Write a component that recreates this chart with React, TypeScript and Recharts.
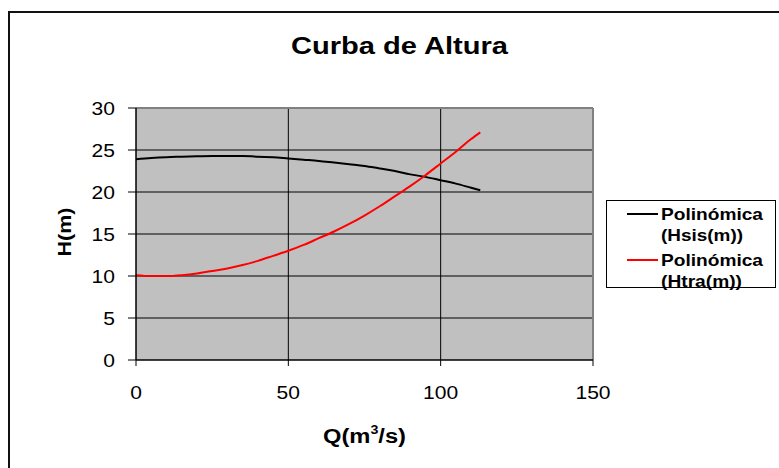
import React from "react";
import {
  LineChart,
  Line,
  XAxis,
  YAxis,
  CartesianGrid,
  ReferenceLine,
  Label,
} from "recharts";

const chartTitle = "Curba de Altura";
const xAxisTitle = "Q(m";
const xAxisTitleSup = "3";
const xAxisTitleEnd = "/s)";
const yAxisTitle = "H(m)";

const qValues = [0, 5, 10, 15, 20, 25, 30, 35, 40, 45, 50, 55, 60, 65, 70, 75, 80, 85, 90, 95, 100, 105, 110, 113];
const hsisValues = [23.9, 24.05, 24.15, 24.2, 24.25, 24.3, 24.3, 24.3, 24.2, 24.15, 24.0, 23.85, 23.7, 23.5, 23.3, 23.1, 22.8, 22.5, 22.1, 21.8, 21.4, 21.0, 20.5, 20.2];
const htraValues = [10.1, 10.0, 10.0, 10.1, 10.3, 10.6, 10.9, 11.3, 11.8, 12.4, 13.0, 13.7, 14.5, 15.3, 16.2, 17.2, 18.3, 19.5, 20.7, 22.0, 23.4, 24.8, 26.3, 27.1];

const xTicks = [0, 50, 100, 150];
const yTicks = [0, 5, 10, 15, 20, 25, 30];
const gridY = [5, 10, 15, 20, 25];
const gridX = [50, 100];

const seriesNames = [
  ["Polinómica", "(Hsis(m))"],
  ["Polinómica", "(Htra(m))"],
];
const seriesColors = ["#000000", "#FF0000"];

const data = qValues.map((q, i) => ({ q, hsis: hsisValues[i], htra: htraValues[i] }));

const FONT = "'Liberation Sans', Arial, sans-serif";

const YTick = (props: any) => {
  const { x, y, payload } = props;
  const s = String(payload.value);
  return (
    <text
      x={x}
      y={y}
      dy={6.8}
      textAnchor="end"
      fontSize={19}
      fontFamily={FONT}
      fill="#000"
      textLength={11.7 * s.length}
      lengthAdjust="spacingAndGlyphs"
    >
      {s}
    </text>
  );
};

const XTick = (props: any) => {
  const { x, y, payload } = props;
  const s = String(payload.value);
  return (
    <text
      x={x}
      y={y}
      dy={32.5}
      textAnchor="middle"
      fontSize={19}
      fontFamily={FONT}
      fill="#000"
      textLength={11.7 * s.length}
      lengthAdjust="spacingAndGlyphs"
    >
      {s}
    </text>
  );
};

export default function App() {
  const W = 779;
  const H = 468;
  return (
    <div style={{ position: "absolute", left: 0, top: 0, width: W, height: H, overflow: "hidden", background: "#fff", fontFamily: FONT }}>
      <div
        style={{
          position: "absolute",
          left: 8,
          top: 11,
          width: 820,
          height: 520,
          border: "2px solid #111",
          boxSizing: "border-box",
        }}
      />
      <LineChart
        width={W}
        height={H}
        data={data}
        margin={{ top: 108, right: 186, bottom: 48, left: 76 }}
        style={{ position: "absolute", left: 0, top: 0 }}
      >
        <CartesianGrid
          fill="#C0C0C0"
          stroke="#000"
          strokeWidth={1}
          horizontalValues={gridY}
          verticalValues={gridX}
        />
        <XAxis
          type="number"
          dataKey="q"
          domain={[0, 150]}
          ticks={xTicks}
          interval={0}
          height={60}
          tickSize={6}
          tickMargin={0}
          tick={<XTick />}
          axisLine={{ stroke: "#000", strokeWidth: 1.5 }}
          tickLine={{ stroke: "#000", strokeWidth: 1 }}
        >
          <Label
            content={(p: any) => {
              const vb = p.viewBox || {};
              const cx = (vb.x ?? 136) + (vb.width ?? 457) / 2;
              return (
                <text
                  x={cx}
                  y={443}
                  textAnchor="middle"
                  fontSize={20}
                  fontWeight="bold"
                  fontFamily={FONT}
                  fill="#000"
                  textLength={83}
                  lengthAdjust="spacingAndGlyphs"
                >
                  {xAxisTitle}
                  <tspan dy={-9} fontSize={12}>{xAxisTitleSup}</tspan>
                  <tspan dy={9}>{xAxisTitleEnd}</tspan>
                </text>
              );
            }}
          />
        </XAxis>
        <YAxis
          type="number"
          domain={[0, 30]}
          ticks={yTicks}
          interval={0}
          width={60}
          tickSize={8}
          tickMargin={13}
          tick={<YTick />}
          axisLine={{ stroke: "#000", strokeWidth: 1.5 }}
          tickLine={{ stroke: "#000", strokeWidth: 1 }}
        >
          <Label
            content={() => (
              <text
                x={65}
                y={232}
                transform="rotate(-90, 65, 232)"
                textAnchor="middle"
                dominantBaseline="central"
                fontSize={18}
                fontWeight="bold"
                fontFamily={FONT}
                fill="#000"
                textLength={49}
                lengthAdjust="spacingAndGlyphs"
              >
                {yAxisTitle}
              </text>
            )}
          />
        </YAxis>
        <ReferenceLine y={30} stroke="#808080" strokeWidth={2} />
        <ReferenceLine x={150} stroke="#808080" strokeWidth={2} />
        <Line
          type="monotone"
          dataKey="hsis"
          stroke={seriesColors[0]}
          strokeWidth={2}
          dot={false}
          isAnimationActive={false}
        />
        <Line
          type="monotone"
          dataKey="htra"
          stroke={seriesColors[1]}
          strokeWidth={2}
          dot={false}
          isAnimationActive={false}
        />
      </LineChart>
      <svg width={W} height={H} style={{ position: "absolute", left: 0, top: 0, pointerEvents: "none" }}>
        <text
          x={399.5}
          y={54}
          textAnchor="middle"
          fontSize={23}
          fontWeight="bold"
          fontFamily={FONT}
          fill="#000"
          textLength={217}
          lengthAdjust="spacingAndGlyphs"
        >
          {chartTitle}
        </text>
        <rect x={606.5} y={200.5} width={169} height={87} fill="#fff" stroke="#000" strokeWidth={1} />
        {seriesNames.map((lines, i) => {
          const cy = 214 + i * 46;
          return (
            <g key={i}>
              <line x1={627} x2={658} y1={cy} y2={cy} stroke={seriesColors[i]} strokeWidth={2} />
              <text
                x={661}
                y={cy + 6}
                fontSize={16.5}
                fontWeight="bold"
                fontFamily={FONT}
                fill="#000"
                textLength={102}
                lengthAdjust="spacingAndGlyphs"
              >
                {lines[0]}
              </text>
              <text
                x={661}
                y={cy + 27}
                fontSize={16.5}
                fontWeight="bold"
                fontFamily={FONT}
                fill="#000"
                textLength={i === 0 ? 82 : 81}
                lengthAdjust="spacingAndGlyphs"
              >
                {lines[1]}
              </text>
            </g>
          );
        })}
      </svg>
    </div>
  );
}
